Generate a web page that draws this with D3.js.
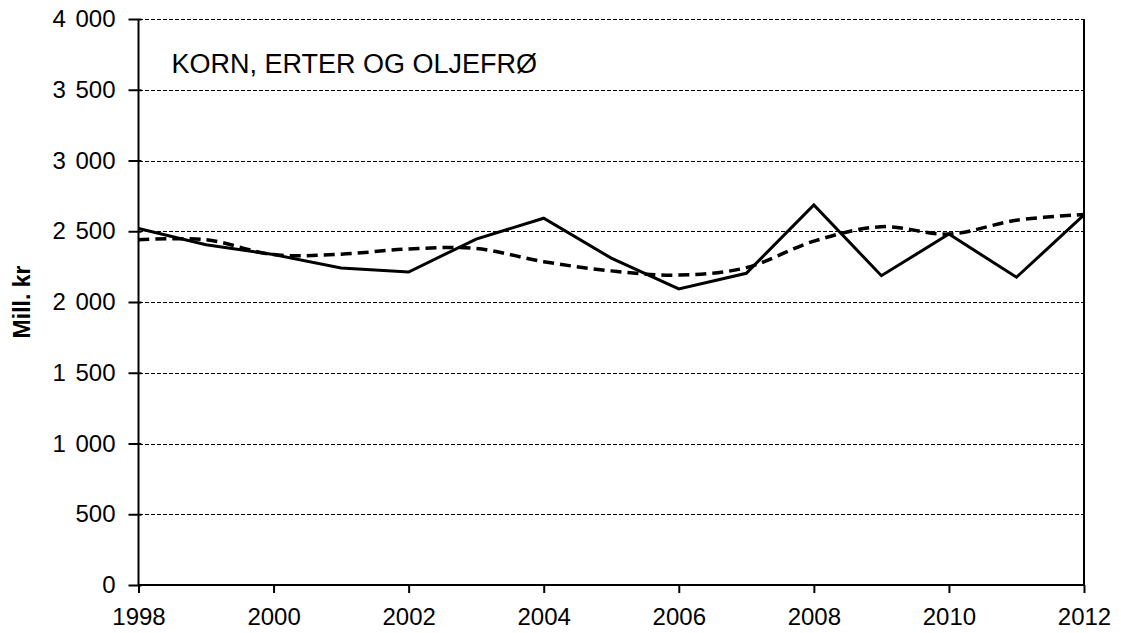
<!DOCTYPE html>
<html>
<head>
<meta charset="utf-8">
<script src="https://cdn.jsdelivr.net/npm/d3@7"></script>
<style>
  body { margin: 0; background: #fff; }
  svg { font-family: "Liberation Sans", Arial, sans-serif; }
</style>
</head>
<body>
<div id="chart"></div>
<script>
const years = [1998,1999,2000,2001,2002,2003,2004,2005,2006,2007,2008,2009,2010,2011,2012];
const actual = [2520,2405,2335,2240,2212,2445,2592,2310,2092,2203,2686,2186,2480,2175,2615];
const trend = [2440,2440,2335,2338,2375,2378,2285,2220,2190,2243,2430,2532,2480,2578,2618];
const yTicks = [0,500,1000,1500,2000,2500,3000,3500,4000];
const xTicks = [1998,2000,2002,2004,2006,2008,2010,2012];
const title = "KORN, ERTER OG OLJEFRØ";
const yLabel = "Mill. kr";

const chart = () => {
  let margin = {top: 19, right: 37, bottom: 48, left: 138.5},
      width = 1121 - margin.left - margin.right,
      height = 633 - margin.top - margin.bottom;

  let svg = d3.select("#chart")
      .append("svg")
      .attr("width", 1121)
      .attr("height", 633)
      .append("g")
      .attr("transform", `translate(${margin.left},${margin.top})`);

  let x = d3.scaleLinear().domain([1998, 2012]).range([0, width]);
  let y = d3.scaleLinear().domain([0, 4000]).range([height, 0]);

  // dashed gridlines
  svg.selectAll("line.grid")
      .data(yTicks.filter(d => d > 0))
      .enter().append("line")
      .attr("class", "grid")
      .attr("x1", 0).attr("x2", width)
      .attr("y1", d => Math.round(y(d)) + 0.5).attr("y2", d => Math.round(y(d)) + 0.5)
      .attr("stroke", "#000")
      .attr("stroke-width", 1)
      .attr("shape-rendering", "crispEdges")
      .attr("stroke-dasharray", "4,2");

  // right border
  svg.append("line")
      .attr("x1", width).attr("x2", width)
      .attr("y1", 0).attr("y2", height)
      .attr("stroke", "#000").attr("stroke-width", 2);

  // y axis
  let yAxis = svg.append("g")
      .call(d3.axisLeft(y).tickValues(yTicks).tickSize(10).tickPadding(13)
        .tickFormat(d => d3.format(",")(d).replace(/,/g, "\u2009\u2009")));
  yAxis.select(".domain").attr("stroke-width", 2).attr("d", `M0,0V${height}`);
  yAxis.selectAll(".tick line").attr("x2", -10).attr("x1", 3).attr("stroke-width", 2);
  yAxis.selectAll("text").attr("font-size", 24).attr("fill", "#000")
      .attr("font-family", "Liberation Sans, Arial, sans-serif");

  // x axis
  let xAxis = svg.append("g")
      .attr("transform", `translate(0,${height})`)
      .call(d3.axisBottom(x).tickValues(xTicks).tickSize(8).tickPadding(15).tickFormat(d3.format("d")));
  xAxis.select(".domain").attr("stroke-width", 2).attr("d", `M0,0H${width}`);
  xAxis.selectAll(".tick line").attr("stroke-width", 2);
  xAxis.selectAll("text").attr("font-size", 24).attr("fill", "#000")
      .attr("font-family", "Liberation Sans, Arial, sans-serif");

  // trend line, smoothed and dashed
  svg.append("path")
      .datum(years.map((d, i) => [d, trend[i]]))
      .attr("fill", "none")
      .attr("stroke", "#000")
      .attr("stroke-width", 3.5)
      .attr("stroke-dasharray", "11,6")
      .attr("d", d3.line()
        .curve(d3.curveCardinal.tension(0))
        .x(d => x(d[0]))
        .y(d => y(d[1])));

  // actual values
  svg.append("path")
      .datum(years.map((d, i) => [d, actual[i]]))
      .attr("fill", "none")
      .attr("stroke", "#000")
      .attr("stroke-width", 3)
      .attr("stroke-linejoin", "miter")
      .attr("d", d3.line()
        .x(d => x(d[0]))
        .y(d => y(d[1])));

  svg.append("text")
      .attr("x", 33)
      .attr("y", 54)
      .attr("font-size", 27)
      .text(title);

  svg.append("text")
      .attr("transform", `translate(${30 - margin.left},${height / 2}) rotate(-90)`)
      .style("text-anchor", "middle")
      .attr("font-size", 23)
      .attr("font-weight", "bold")
      .text(yLabel);
}

chart();
</script>
</body>
</html>
